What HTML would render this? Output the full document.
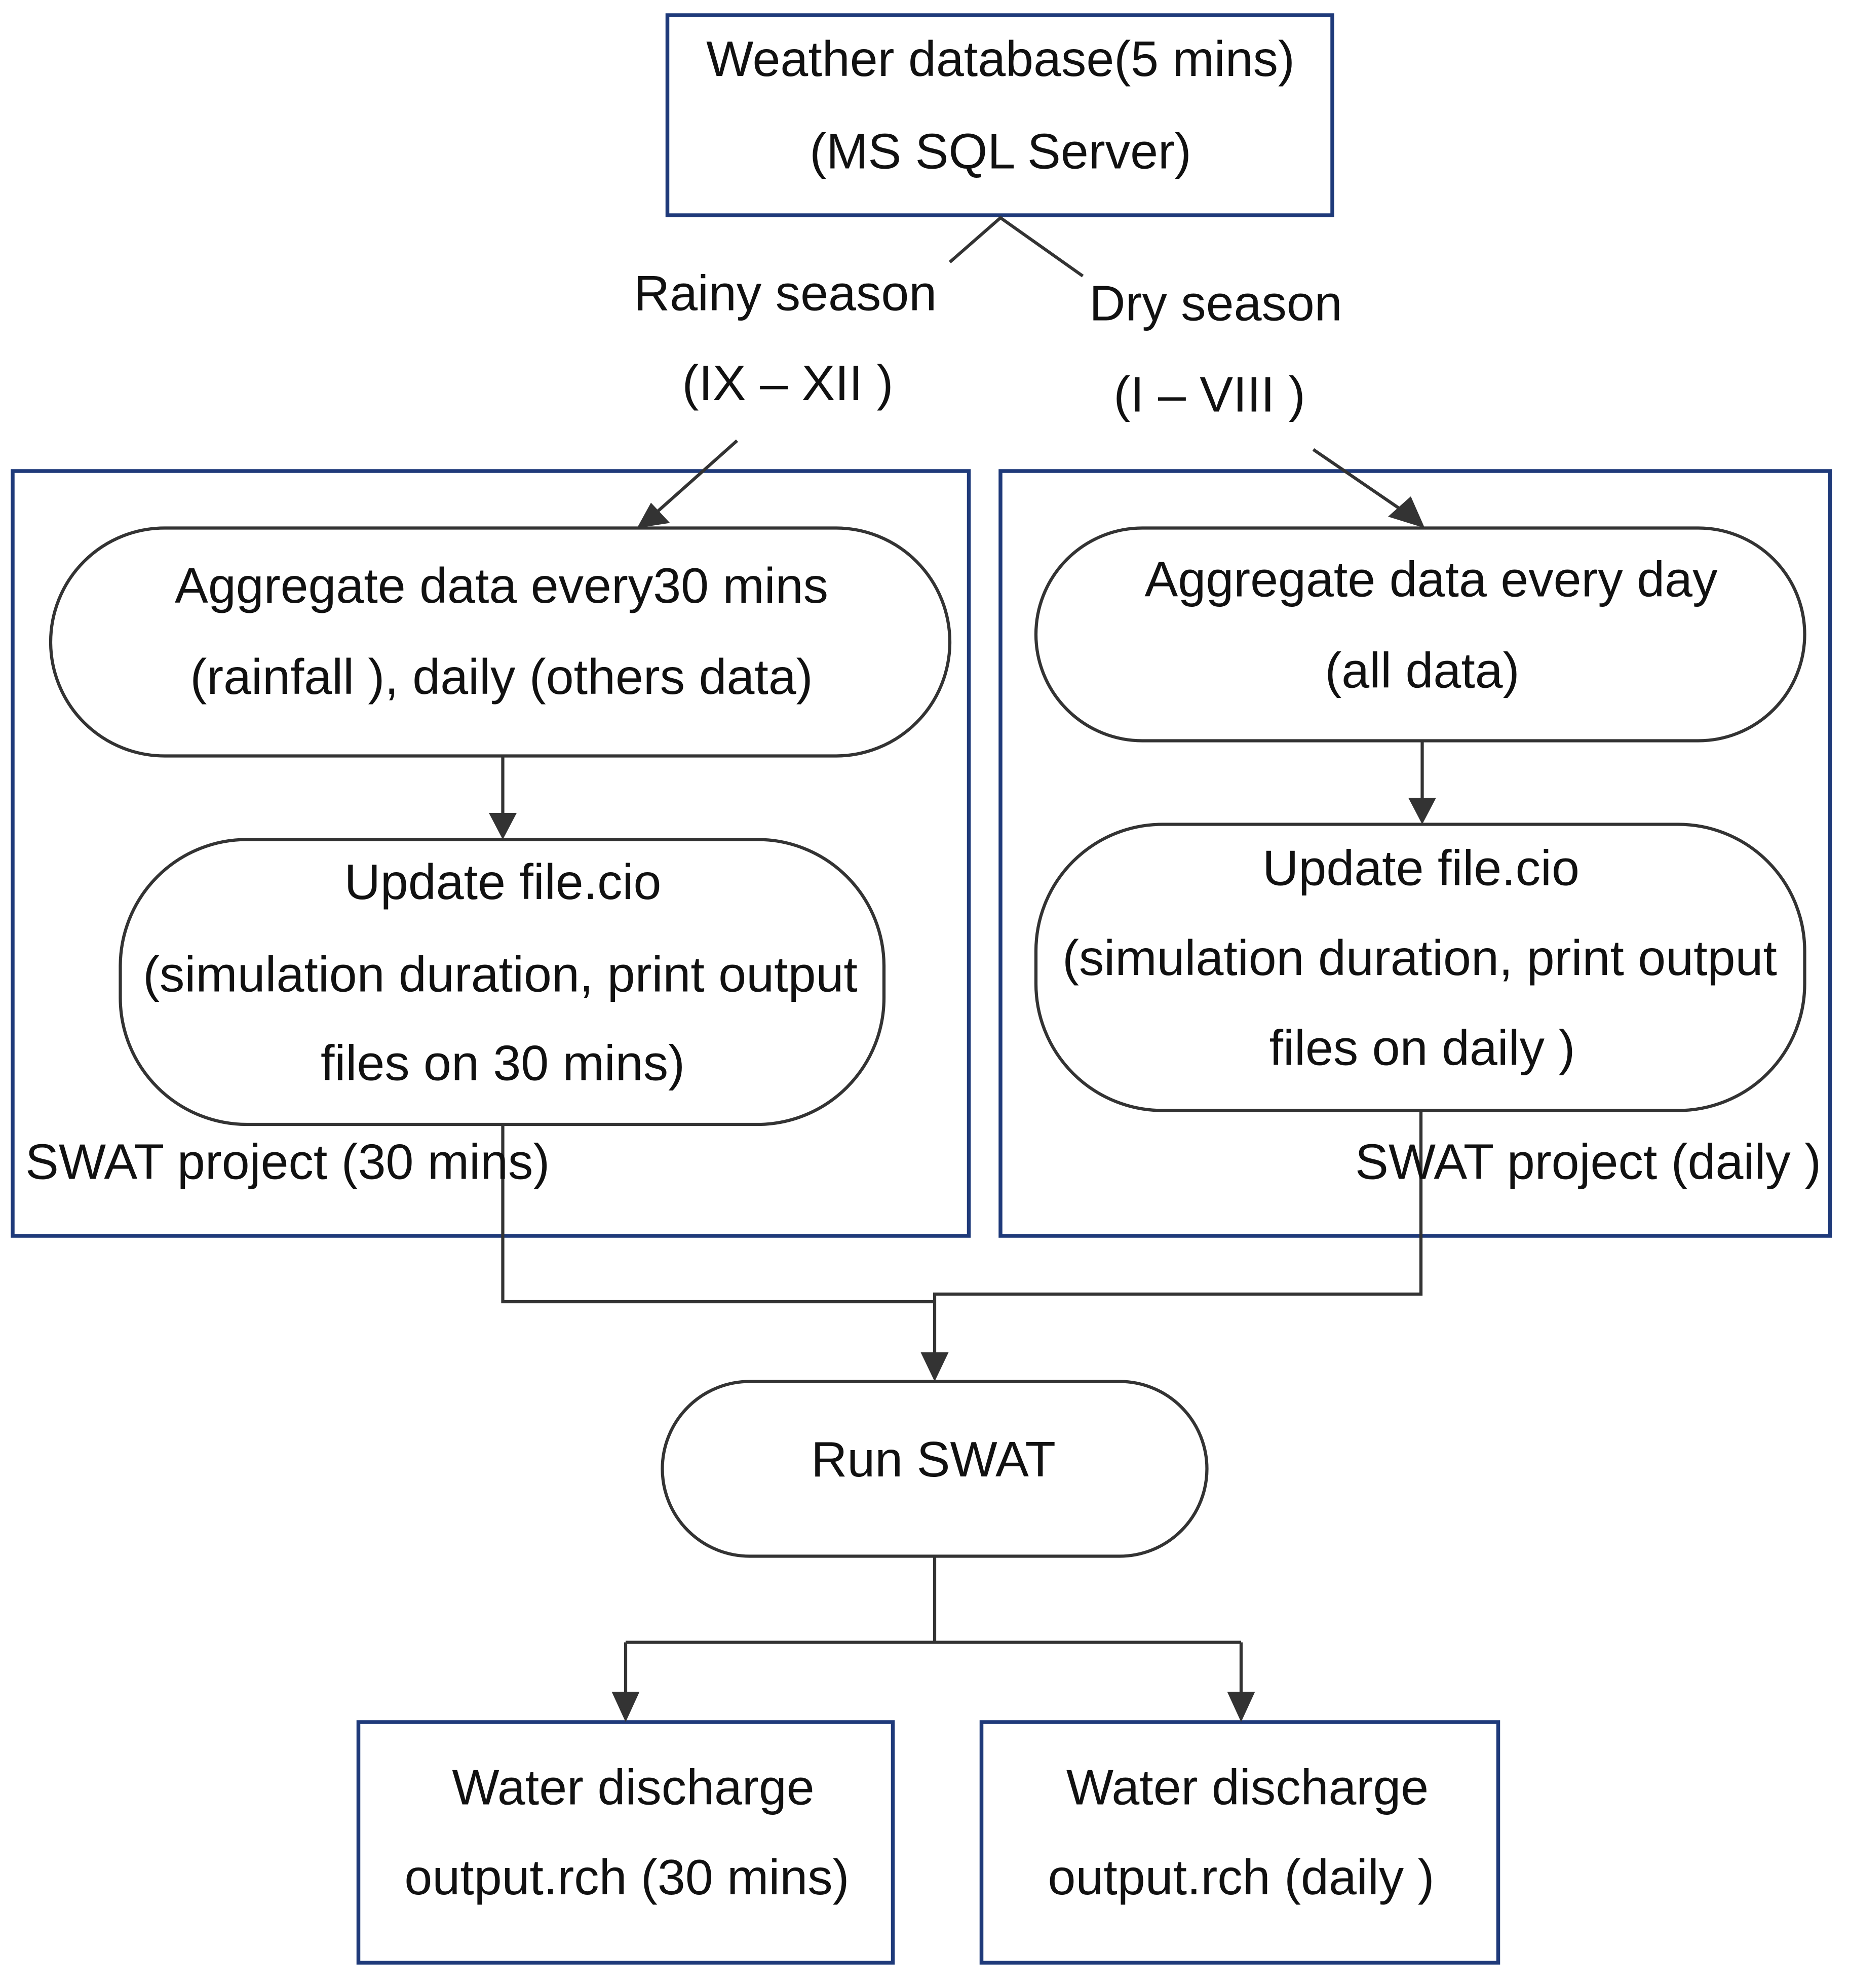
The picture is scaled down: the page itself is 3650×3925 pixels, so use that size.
<!DOCTYPE html>
<html><head><meta charset="utf-8"><style>
html,body{margin:0;padding:0;background:#fff;}
svg{display:block;}
text{font-family:"Liberation Sans",sans-serif;font-size:39.5px;fill:#111;}
</style></head><body>
<svg width="3650" height="3925" viewBox="0 0 1460 1570" xmlns="http://www.w3.org/2000/svg">
<g fill="none" stroke="#1f3a7a" stroke-width="3">
<rect x="527" y="12" width="525" height="158"/>
<rect x="10" y="372" width="755" height="604"/>
<rect x="790" y="372" width="655" height="604"/>
<rect x="283" y="1360" width="422" height="190"/>
<rect x="775" y="1360" width="408" height="190"/>
</g>
<g fill="none" stroke="#333" stroke-width="2.5">
<rect x="40" y="417" width="710" height="180" rx="90"/>
<rect x="95" y="663" width="603" height="225" rx="100"/>
<rect x="818" y="417" width="607" height="168" rx="84"/>
<rect x="818" y="651" width="607" height="226" rx="100"/>
<rect x="523" y="1091" width="430" height="138" rx="69"/>
<path d="M750 207 L790 172 L855 218"/>
<path d="M582 348 L518 405"/>
<path d="M1037 355 L1110 405"/>
<path d="M397 597 L397 648"/>
<path d="M1123 585 L1123 636"/>
<path d="M397 888 L397 1028 L738 1028"/>
<path d="M1122 877 L1122 1022 L738 1022 L738 1072"/>
<path d="M738 1229 L738 1297 M494 1297 L980 1297 M494 1297 L494 1342 M980 1297 L980 1342"/>
</g>
<g fill="#333">
<polygon points="503,417 529,413 514,397"/>
<polygon points="1125,417 1096,408 1114,392"/>
<polygon points="397,663 386,642 408,642"/>
<polygon points="1123,651 1112,630 1134,630"/>
<polygon points="738,1091 727,1068 749,1068"/>
<polygon points="494,1360 483,1336 505,1336"/>
<polygon points="980,1360 969,1336 991,1336"/>
</g>
<g text-anchor="middle">
<text x="790" y="60">Weather database(5 mins)</text>
<text x="790" y="133">(MS SQL Server)</text>
<text x="620" y="245">Rainy season</text>
<text x="622" y="316">(IX  – XII )</text>
<text x="960" y="253">Dry season</text>
<text x="955" y="325">(I – VIII  )</text>
<text x="396" y="476">Aggregate data every30 mins</text>
<text x="396" y="548">(rainfall ), daily  (others data)</text>
<text x="397" y="710">Update file.cio</text>
<text x="395" y="783">(simulation  duration, print output</text>
<text x="397" y="853">files on 30 mins)</text>
<text x="1130" y="471">Aggregate data every day</text>
<text x="1123" y="543">(all data)</text>
<text x="1122" y="699">Update file.cio</text>
<text x="1121" y="770">(simulation  duration, print output</text>
<text x="1123" y="841">files on daily )</text>
<text x="737" y="1166">Run SWAT</text>
<text x="500" y="1425">Water discharge</text>
<text x="495" y="1496">output.rch (30 mins)</text>
<text x="985" y="1425">Water discharge</text>
<text x="980" y="1496">output.rch (daily )</text>
</g>
<text x="20" y="931">SWAT project  (30 mins)</text>
<text x="1438" y="931" text-anchor="end">SWAT project  (daily )</text>
</svg>
</body></html>
